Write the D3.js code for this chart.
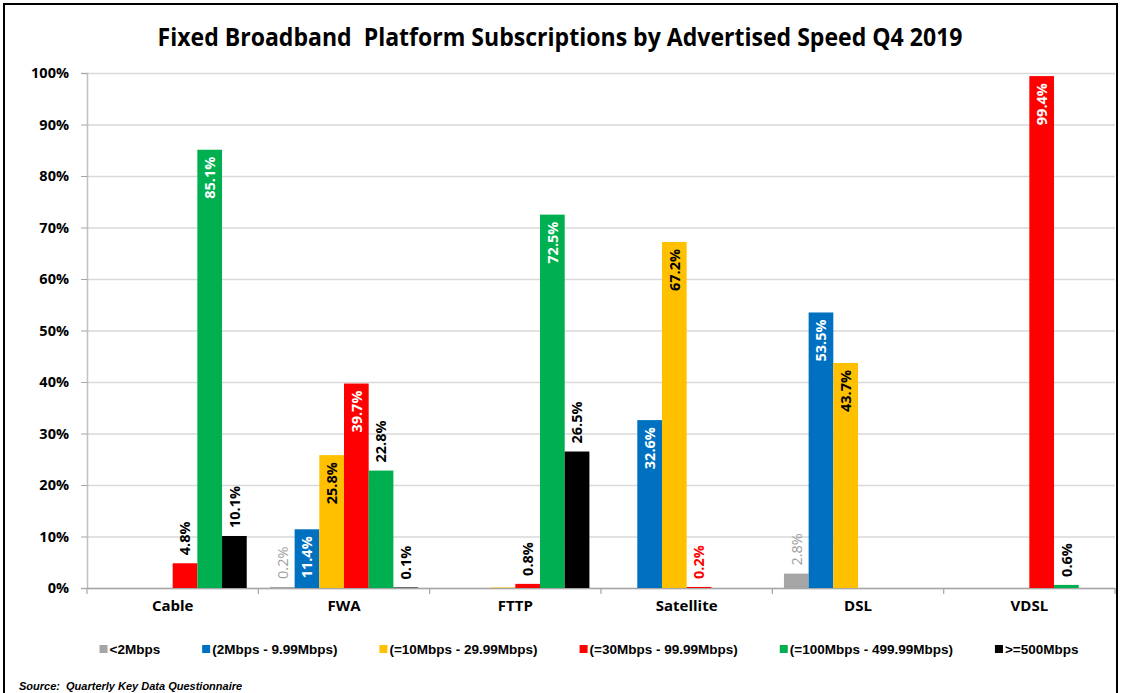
<!DOCTYPE html>
<html>
<head>
<meta charset="utf-8">
<script src="https://cdn.jsdelivr.net/npm/d3@7"></script>
<style>
  body { margin: 0; background: #fff; }
</style>
</head>
<body>
<script>
const categories = ["Cable", "FWA", "FTTP", "Satellite", "DSL", "VDSL"];
const seriesNames = ["<2Mbps", "(2Mbps - 9.99Mbps)", "(=10Mbps - 29.99Mbps)",
                     "(=30Mbps - 99.99Mbps)", "(=100Mbps - 499.99Mbps)", ">=500Mbps"];
const seriesColors = ["#a5a5a5", "#0070c0", "#ffc000", "#ff0000", "#00b050", "#000000"];

// values in %, per series, in category order (null = no bar)
const below2 = [null, 0.2, null, null, 2.8, null];
const from2 = [null, 11.4, null, 32.6, 53.5, null];
const from10 = [null, 25.8, 0.1, 67.2, 43.7, null];
const from30 = [4.8, 39.7, 0.8, 0.2, null, 99.4];
const from100 = [85.1, 22.8, 72.5, null, null, 0.6];
const above500 = [10.1, 0.1, 26.5, null, null, null];
const seriesValues = [below2, from2, from10, from30, from100, above500];

// where each data label sits: "in" = inside end, "out" = outside end, "" = none
const below2Lab = ["", "out", "", "", "out", ""];
const from2Lab = ["", "in", "", "in", "in", ""];
const from10Lab = ["", "in", "", "in", "in", ""];
const from30Lab = ["out", "in", "out", "out", "", "in"];
const from100Lab = ["in", "out", "in", "", "", "out"];
const above500Lab = ["out", "out", "out", "", "", ""];
const seriesLabels = [below2Lab, from2Lab, from10Lab, from30Lab, from100Lab, above500Lab];

const yTicks = [0, 10, 20, 30, 40, 50, 60, 70, 80, 90, 100];

const W = 1122, H = 693;
const svg = d3.select("body").append("svg")
              .attr("width", W)
              .attr("height", H);

svg.append("rect").attr("width", W).attr("height", H).attr("fill", "#fff");
svg.append("rect")
   .attr("x", 4).attr("y", 4)
   .attr("width", 1113).attr("height", 720)
   .attr("fill", "none")
   .attr("stroke", "#000")
   .attr("stroke-width", 2);

svg.append("text")
   .text("Fixed Broadband  Platform Subscriptions by Advertised Speed Q4 2019")
   .attr("x", 560)
   .attr("y", 46)
   .attr("text-anchor", "middle")
   .attr("xml:space", "preserve")
   .style("font-family", "'Liberation Sans Narrow', 'Open Sans', sans-serif")
   .style("font-weight", "bold")
   .style("font-size", "25px")
   .attr("textLength", 805)
   .attr("lengthAdjust", "spacingAndGlyphs");

const plotLeft = 87, plotRight = 1115, plotTop = 73, plotBottom = 588;

const y = d3.scaleLinear().domain([0, 100]).range([plotBottom, plotTop]);
const x0 = d3.scaleBand().domain(categories).range([plotLeft, plotRight]);
const x1 = d3.scaleBand().domain(seriesNames).range([0, x0.bandwidth()]).paddingOuter(0.47);

// gridlines
const grid = svg.append("g")
   .attr("transform", `translate(${plotLeft},0)`)
   .call(d3.axisLeft(y).tickValues(yTicks).tickSize(-(plotRight - plotLeft)).tickFormat(""));
grid.select(".domain").remove();
grid.selectAll("line").attr("stroke", "#d9d9d9").attr("stroke-width", 1.5);

// y axis
const yAxis = svg.append("g")
   .attr("transform", `translate(${plotLeft},0)`)
   .call(d3.axisLeft(y).tickValues(yTicks).tickSize(6).tickPadding(12).tickFormat(d => d + "%"));
yAxis.select(".domain").attr("stroke", "#bfbfbf").attr("stroke-width", 1.5);
yAxis.selectAll("line").attr("stroke", "#a6a6a6");
yAxis.selectAll("text")
     .style("font-family", "'Open Sans', sans-serif")
     .style("font-weight", "bold")
     .style("font-size", "14.5px")
     .attr("fill", "#000");

// x axis
const xAxis = svg.append("g")
   .attr("transform", `translate(0,${plotBottom})`)
   .call(d3.axisBottom(x0).tickSize(0).tickPadding(12).tickSizeOuter(0));
xAxis.select(".domain").attr("stroke", "#a6a6a6").attr("stroke-width", 1.5);
xAxis.selectAll("text")
     .style("font-family", "'Open Sans', sans-serif")
     .style("font-weight", "bold")
     .style("font-size", "15px")
     .attr("fill", "#000");

const bounds = categories.map(c => x0(c)).concat([x0(categories[categories.length - 1]) + x0.bandwidth()]);
svg.append("g").selectAll("line")
   .data(bounds)
   .join("line")
   .attr("x1", d => d).attr("x2", d => d)
   .attr("y1", plotBottom).attr("y2", plotBottom + 6)
   .attr("stroke", "#a6a6a6")
   .attr("stroke-width", 1.2);

// bars
const points = [];
seriesNames.forEach((s, si) => {
    categories.forEach((c, ci) => {
        const v = seriesValues[si][ci];
        if (v !== null) {
            points.push({ series: s, si: si, cat: c, value: v, place: seriesLabels[si][ci] });
        }
    });
});

svg.append("g").selectAll("rect")
   .data(points)
   .join("rect")
   .attr("x", d => x0(d.cat) + x1(d.series))
   .attr("y", d => y(d.value))
   .attr("width", x1.bandwidth())
   .attr("height", d => y(0) - y(d.value))
   .attr("fill", d => seriesColors[d.si]);

const labelColor = d => {
    if (d.place === "in") return d.si === 2 ? "#000" : "#fff";
    if (d.si === 0) return "#a0a0a0";
    if (d.si === 3 && d.cat === "Satellite") return "#ff0000";
    return "#000";
};

svg.append("g").selectAll("text")
   .data(points.filter(d => d.place !== ""))
   .join("text")
   .text(d => d.value.toFixed(1) + "%")
   .attr("transform", d => {
       const cx = x0(d.cat) + x1(d.series) + x1.bandwidth() / 2;
       const cy = d.place === "in" ? y(d.value) + 7 : y(d.value) - 8;
       return `translate(${cx},${cy}) rotate(-90)`;
   })
   .attr("text-anchor", d => d.place === "in" ? "end" : "start")
   .attr("dy", "0.36em")
   .style("font-family", "'Open Sans', sans-serif")
   .style("font-weight", d => d.si === 0 ? "normal" : "bold")
   .style("font-size", "14.5px")
   .attr("fill", labelColor);

// legend
const legend = svg.append("g").attr("transform", "translate(0,649)");
const items = legend.selectAll("g")
   .data(seriesNames)
   .join("g");
items.append("rect")
     .attr("y", -4).attr("width", 8).attr("height", 8)
     .attr("fill", (d, i) => seriesColors[i]);
items.append("text")
     .text(d => d)
     .attr("x", 10)
     .attr("dy", "0.36em")
     .style("font-family", "'Liberation Sans', Arial, sans-serif")
     .style("font-weight", "bold")
     .style("font-size", "13.5px")
     .attr("fill", "#000");

let pos = 0;
const offsets = [];
items.each(function () {
    offsets.push(pos);
    pos += 10 + d3.select(this).select("text").node().getComputedTextLength() + 42;
});
const totalW = pos - 42;
const startX = 589 - totalW / 2;
items.attr("transform", (d, i) => `translate(${startX + offsets[i]},0)`);

svg.append("text")
   .text("Source:  Quarterly Key Data Questionnaire")
   .attr("x", 19)
   .attr("y", 690)
   .attr("xml:space", "preserve")
   .style("font-family", "'Liberation Sans', Arial, sans-serif")
   .style("font-weight", "bold")
   .style("font-style", "italic")
   .style("font-size", "11px")
   .attr("fill", "#000");
</script>
</body>
</html>
